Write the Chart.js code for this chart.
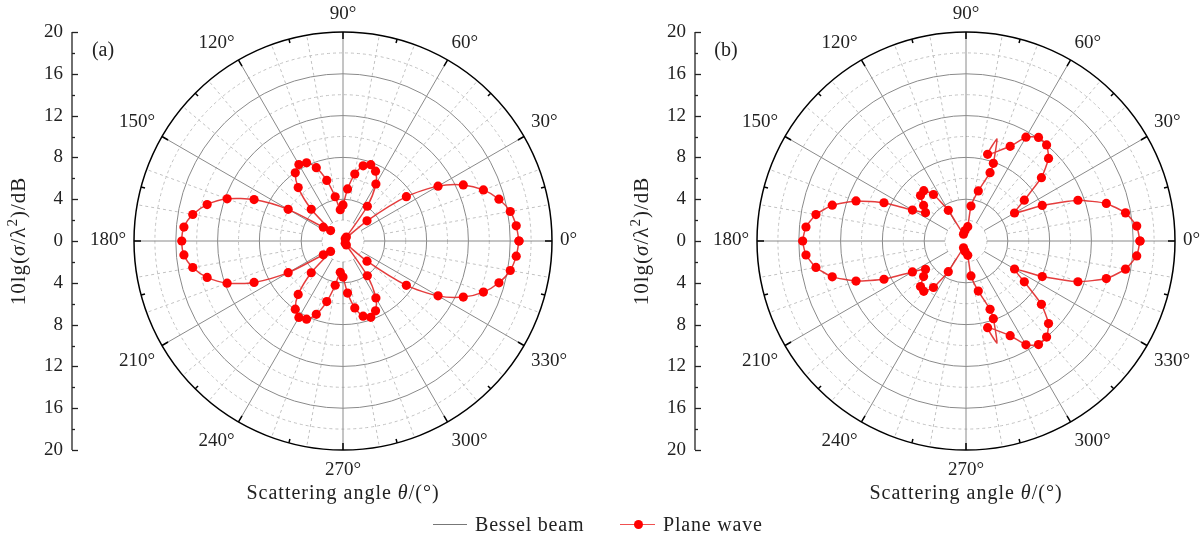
<!DOCTYPE html>
<html>
<head>
<meta charset="utf-8">
<script src="https://cdn.jsdelivr.net/npm/chart.js@4.4.1/dist/chart.umd.min.js"></script>
<style>
  html, body { margin: 0; padding: 0; background: #fff; width: 1204px; height: 540px; overflow: hidden; position: relative; }
  canvas { position: absolute; top: 0; }
  #chartA { left: 0; }
  #chartB { left: 623px; }
  .lg { position: absolute; top: 511px; font: 20px "Liberation Serif", serif; letter-spacing: 0.8px; color: #222; line-height: 26px; }
  .lgLine { position: absolute; height: 0; }
  .lgDot { position: absolute; width: 9px; height: 9px; border-radius: 50%; background: #ff0000; }
</style>
</head>
<body>
<canvas id="chartA" width="620" height="540"></canvas>
<canvas id="chartB" width="620" height="540"></canvas>

<!-- legend -->
<div class="lgLine" style="left:433px;top:524px;width:34px;border-top:1px solid #777;"></div>
<div class="lg" style="left:475px;">Bessel beam</div>
<div class="lgLine" style="left:620px;top:524px;width:35px;border-top:1.5px solid #f05050;"></div>
<div class="lgDot" style="left:634px;top:520px;"></div>
<div class="lg" style="left:663px;">Plane wave</div>

<script>
const FONT = '"Liberation Serif", "Times New Roman", serif';

/* ======================================================
   DATA
====================================================== */
// radial ticks (left axis), angle labels
const radialTicks = [-20, -16, -12, -8, -4, 0, 4, 8, 12, 16, 20];
const angleTicks = [0, 30, 60, 90, 120, 150, 180, 210, 240, 270, 300, 330];

// (a) plane wave : angle (deg), radius
const aAngle = [0, 5, 10, 15, 20, 25, 30, 35, 40, 45, 50, 55, 60, 65, 70, 75, 80, 85, 90,
  95, 100, 105, 110, 115, 120, 125, 130, 135, 140, 145, 150, 155, 160, 165, 170, 175, 180,
  185, 190, 195, 200, 205, 210, 215, 220, 225, 230, 235, 240, 245, 250, 255, 260, 265, 270,
  275, 280, 285, 290, 295, 300, 305, 310, 315, 320, 325, 330, 335, 340, 345, 350, 355, 360];
const aR = [16.84, 16.64, 16.25, 15.45, 14.3, 12.7, 10.5, 7.4, 3.0, 0.3, 0.5, 4.06, 6.3, 7.37, 7.77, 7.45, 6.5, 5.0, 3.45,
  3.0, 4.3, 6.0, 7.47, 8.25, 8.44, 7.96, 6.67, 4.3, 1.55, 2.3, 6.06, 9.39, 11.8, 13.46, 14.6, 15.28, 15.43,
  15.28, 14.6, 13.46, 11.8, 9.39, 6.06, 2.3, 1.55, 4.3, 6.67, 7.96, 8.44, 8.25, 7.47, 6.0, 4.3, 3.0, 3.45,
  5.0, 6.5, 7.45, 7.77, 7.37, 6.3, 4.06, 0.5, 0.3, 3.0, 7.4, 10.5, 12.7, 14.3, 15.45, 16.25, 16.64, 16.84];

// (b) plane wave : angle (deg), radius, marker shown (1) or line only (0)
const bAngle = [0, 5, 10, 15, 20, 25, 30, 35, 40, 45, 50, 55, 60, 65, 76, 73.1, 70.6, 70.6, 76.2, 81.9, 83,
  95, 110, 120, 125, 130, 135, 140, 145, 150, 155, 160, 165, 170, 175, 180,
  185, 190, 195, 200, 205, 210, 215, 220, 225, 230, 235, 240, 250, 265,
  277, 278.1, 283.8, 289.4, 289.4, 286.9, 284, 295, 300, 305, 310, 315, 320, 325, 330, 335, 340, 345, 350, 355, 360];
const bR = [16.65, 16.4, 15.5, 13.9, 11.4, 8.05, 5.36, 6.81, 9.42, 11.17, 12.0, 12.1, 11.47, 10.0, 8.55, 10.2, 7.88, 6.93, 4.93, 3.38, 1.38,
  1.0, 0.7, 3.39, 5.43, 6.29, 6.16, 5.3, 4.73, 5.92, 8.66, 11.2, 13.25, 14.58, 15.37, 15.63,
  15.37, 14.58, 13.25, 11.2, 8.66, 5.92, 4.73, 5.3, 6.16, 6.29, 5.43, 3.39, 0.7, 1.0,
  1.38, 3.38, 4.93, 6.93, 7.88, 10.2, 8.55, 10.0, 11.47, 12.1, 12.0, 11.17, 9.42, 6.81, 5.36, 8.05, 11.4, 13.9, 15.5, 16.4, 16.65];
const bMark = [1, 1, 1, 1, 1, 1, 1, 1, 1, 1, 1, 1, 1, 1, 1, 0, 1, 1, 1, 1, 1,
  1, 1, 1, 1, 1, 1, 1, 1, 1, 1, 1, 1, 1, 1, 1,
  1, 1, 1, 1, 1, 1, 1, 1, 1, 1, 1, 1, 1, 1,
  1, 1, 1, 1, 1, 0, 1, 1, 1, 1, 1, 1, 1, 1, 1, 1, 1, 1, 1, 1, 1];

/* ======================================================
   HELPERS
====================================================== */
const R_MAX = 20;
const X_HALF = 20 * 271 / 209; // axis sits 271px left of centre, circle radius 209px

function toXY(angles, radii) {
  return angles.map((t, i) => ({
    x: radii[i] * Math.cos(t * Math.PI / 180),
    y: radii[i] * Math.sin(t * Math.PI / 180),
  }));
}

function sgn(v) {
  return Math.abs(v) < 0.01 ? 0 : Math.sign(v);
}

// draw a row of [text, italic, sizeFactor, dy] pieces centred on (0,0)
function drawPieces(ctx, pieces, size) {
  let total = 0;
  const fontOf = (p) => (p[1] ? "italic " : "") + Math.round(size * (p[2] || 1)) + "px " + FONT;
  const widths = pieces.map((p) => {
    ctx.font = fontOf(p);
    const w = ctx.measureText(p[0]).width;
    total += w;
    return w;
  });
  let x = -total / 2;
  ctx.textAlign = "left";
  ctx.textBaseline = "middle";
  pieces.forEach((p, i) => {
    ctx.font = fontOf(p);
    ctx.fillText(p[0], x, p[3] || 0);
    x += widths[i];
  });
}

/* ======================================================
   POLAR FRAME PLUGIN
====================================================== */
const polarFrame = {
  id: "polarFrame",
  beforeDatasetsDraw(chart, args, opts) {
    const ctx = chart.ctx;
    const xs = chart.scales.x, ys = chart.scales.y;
    const cx = xs.getPixelForValue(0), cy = ys.getPixelForValue(0);
    const k = cy - ys.getPixelForValue(1);
    const R = R_MAX * k;

    ctx.save();
    ctx.lineWidth = 1;

    // circles
    for (let r = 2; r < R_MAX; r += 2) {
      ctx.beginPath();
      if (r % 4 === 0) {
        ctx.setLineDash([]);
        ctx.strokeStyle = "#8a8a8a";
      } else {
        ctx.setLineDash([3, 3]);
        ctx.strokeStyle = "#c2c2c2";
      }
      ctx.arc(cx, cy, r * k, 0, Math.PI * 2);
      ctx.stroke();
    }

    // spokes
    for (let a = 0; a < 360; a += 10) {
      const major = a % 30 === 0;
      const r0 = (major ? 2 : 4) * k;
      const c = Math.cos(a * Math.PI / 180), s = Math.sin(a * Math.PI / 180);
      ctx.beginPath();
      if (major) {
        ctx.setLineDash([]);
        ctx.strokeStyle = "#8a8a8a";
      } else {
        ctx.setLineDash([3, 3]);
        ctx.strokeStyle = "#c2c2c2";
      }
      ctx.moveTo(cx + r0 * c, cy - r0 * s);
      ctx.lineTo(cx + R * c, cy - R * s);
      ctx.stroke();
    }

    // outer circle + ticks
    ctx.setLineDash([]);
    ctx.strokeStyle = "#000";
    ctx.lineWidth = 1.5;
    ctx.beginPath();
    ctx.arc(cx, cy, R, 0, Math.PI * 2);
    ctx.stroke();
    for (let a = 0; a < 360; a += 15) {
      const len = a % 30 === 0 ? 7 : 4;
      const c = Math.cos(a * Math.PI / 180), s = Math.sin(a * Math.PI / 180);
      ctx.beginPath();
      ctx.moveTo(cx + R * c, cy - R * s);
      ctx.lineTo(cx + (R - len) * c, cy - (R - len) * s);
      ctx.stroke();
    }
    ctx.restore();
  },

  afterDraw(chart, args, opts) {
    const ctx = chart.ctx;
    const xs = chart.scales.x, ys = chart.scales.y;
    const cx = xs.getPixelForValue(0), cy = ys.getPixelForValue(0);
    const k = cy - ys.getPixelForValue(1);
    const R = R_MAX * k;
    const left = chart.chartArea.left;

    ctx.save();
    ctx.fillStyle = "#222";
    ctx.strokeStyle = "#222";

    // angle labels: text box corner sits just outside the rim
    ctx.font = "19px " + FONT;
    ctx.textAlign = "center";
    ctx.textBaseline = "middle";
    angleTicks.forEach((a) => {
      const txt = a + "\u00b0";
      const c = Math.cos(a * Math.PI / 180), s = Math.sin(a * Math.PI / 180);
      const hw = ctx.measureText(txt).width / 2, hh = 9, g = 8;
      const px = cx + (R + g) * c + hw * sgn(c);
      const py = cy - (R + g) * s - hh * sgn(s) + (s < -0.01 ? 3 : -1);
      ctx.fillText(txt, px, py);
    });

    // left radial axis line + inward ticks
    ctx.lineWidth = 1.3;
    const yTop = ys.getPixelForValue(R_MAX), yBot = ys.getPixelForValue(-R_MAX);
    ctx.beginPath();
    ctx.moveTo(left, yTop);
    ctx.lineTo(left, yBot);
    ctx.stroke();
    for (let v = -R_MAX; v <= R_MAX; v += 2) {
      const py = Math.round(ys.getPixelForValue(v)) + 0.5;
      const len = v % 4 === 0 ? 6 : 3;
      ctx.beginPath();
      ctx.moveTo(left, py);
      ctx.lineTo(left + len, py);
      ctx.stroke();
    }

    // panel tag
    ctx.font = "20px " + FONT;
    ctx.textAlign = "center";
    ctx.fillText(opts.tag, left + 31, 51);

    ctx.letterSpacing = "1px";
    // x title
    ctx.save();
    ctx.translate(cx, 494);
    drawPieces(ctx, [["Scattering angle "], ["\u03b8", true], ["/(\u00b0)"]], 20);
    ctx.restore();

    // y title
    ctx.save();
    ctx.translate(left - 53, 241);
    ctx.rotate(-Math.PI / 2);
    drawPieces(ctx, [["10lg("], ["\u03c3", true], ["/\u03bb"], ["2", false, 0.7, -6], [")/dB"]], 21);
    ctx.restore();

    ctx.restore();
  },
};

/* ======================================================
   CHART BUILDER
====================================================== */
function makeChart(id, tag, angles, radii, marks, tension) {
  const pts = toXY(angles, radii);
  const config = {
    type: "scatter",
    data: {
      datasets: [
        {
          label: "Plane wave",
          data: pts,
          showLine: true,
          borderColor: "rgba(225, 40, 40, 0.9)",
          borderWidth: 1.5,
          tension: tension,
          pointRadius: (c) => (marks && !marks[c.dataIndex] ? 0 : 4.6),
          pointBackgroundColor: "#ff0000",
          pointBorderColor: "#ff0000",
          pointBorderWidth: 0,
          clip: false,
        },
      ],
    },
    options: {
      responsive: false,
      animation: false,
      events: [],
      layout: { padding: { left: 0, right: 6, top: 32, bottom: 90 } },
      scales: {
        x: { type: "linear", display: false, min: -X_HALF, max: X_HALF },
        y: {
          type: "linear",
          min: -R_MAX,
          max: R_MAX,
          grid: { display: false, drawTicks: false },
          border: { display: false },
          afterFit: (scale) => { scale.width = 72; },
          afterBuildTicks: (scale) => { scale.ticks = radialTicks.map((v) => ({ value: v })); },
          ticks: {
            padding: 9,
            color: "#222",
            font: { family: FONT, size: 19 },
            callback: (v) => Math.abs(v),
          },
        },
      },
      plugins: {
        legend: { display: false },
        tooltip: { enabled: false },
        polarFrame: { tag: tag },
      },
    },
    plugins: [polarFrame],
  };
  return new Chart(document.getElementById(id), config);
}

makeChart("chartA", "(a)", aAngle, aR, null, 0.25);
makeChart("chartB", "(b)", bAngle, bR, bMark, 0.15);
</script>
</body>
</html>
